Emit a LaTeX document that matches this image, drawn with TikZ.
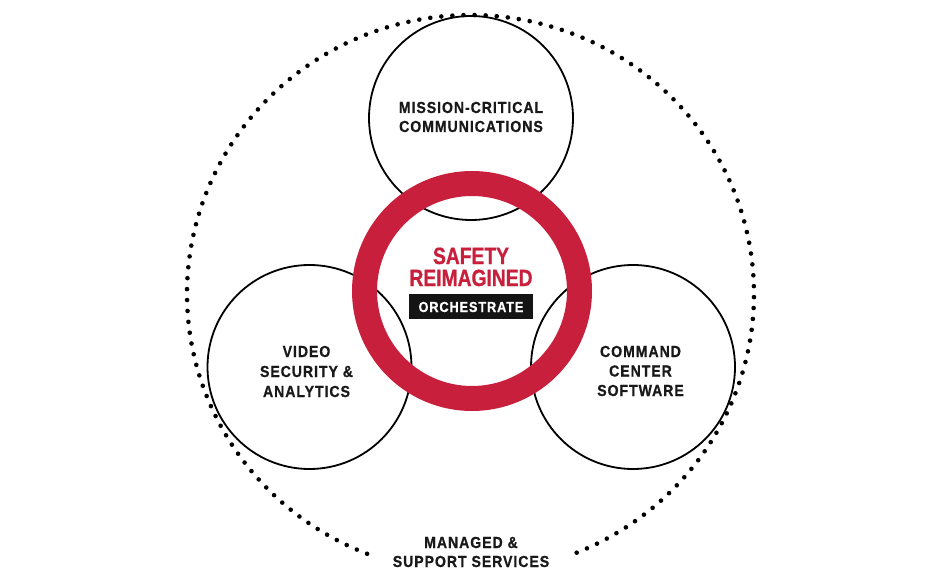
\documentclass[tikz,border=0pt]{standalone}
\usepackage{fontspec}
\newfontfamily\lblfont[FakeStretch=0.88,LetterSpace=6,FakeBold=0.8]{Liberation Sans}
\newfontfamily\ttlfont[FakeStretch=0.82,FakeBold=0.8]{Liberation Sans}
\definecolor{safetyred}{RGB}{200,32,60}
\tikzset{
  lbl/.style={anchor=base, inner sep=0pt, font=\lblfont\bfseries\fontsize{16}{19}\selectfont, text=black!90},
  ttl/.style={anchor=base, inner sep=0pt, font=\ttlfont\bfseries\fontsize{23.5}{22}\selectfont, text=safetyred},
  pillar/.style={draw=black, line width=1.8pt},
  ring/.style={draw=safetyred, line width=25pt},
  dotmark/.style={fill=black}
}
\begin{document}
\begin{tikzpicture}[x=1pt,y=-1pt]
\useasboundingbox (0,0) rectangle (945,588);
% outer dotted ring
\foreach \i in {0,...,141}{
  \pgfmathsetmacro{\a}{-68+\i*2.24539}
  \fill[dotmark] ({470.5+283.5*cos(\a)},{294-279*sin(\a)}) circle (2.3pt);
}
% three pillar circles
\coordinate (ctop) at (471,118);
\coordinate (cleft) at (309.5,367);
\coordinate (cright) at (633,367);
\draw[pillar] (ctop) circle (102pt);
\draw[pillar] (cleft) circle (102pt);
\draw[pillar] (cright) circle (102pt);
% central red ring
\coordinate (ccen) at (472,291);
\draw[ring] (ccen) circle (107.5pt);
% labels
\node[lbl] (m1) at (471,113) {MISSION-CRITICAL};
\node[lbl] (m2) at (471,132) {COMMUNICATIONS};
\node[ttl] (s1) at (471,264) {SAFETY};
\node[ttl] (s2) at (471,286) {REIMAGINED};
\node[fill=black!92, minimum width=124pt, minimum height=25pt, inner sep=0pt] (obox) at (471,306.5) {};
\node[lbl, font=\lblfont\bfseries\fontsize{14.5}{18}\selectfont, text=white] (o1) at (471,312) {ORCHESTRATE};
\node[lbl] (v1) at (306.5,357) {VIDEO};
\node[lbl] (v2) at (306.5,377) {SECURITY \&};
\node[lbl] (v3) at (306.5,397) {ANALYTICS};
\node[lbl] (c1) at (640.5,357) {COMMAND};
\node[lbl] (c2) at (640.5,376.5) {CENTER};
\node[lbl] (c3) at (640.5,396) {SOFTWARE};
\node[lbl] (g1) at (471,548) {MANAGED \&};
\node[lbl] (g2) at (471,567) {SUPPORT SERVICES};
\end{tikzpicture}
\end{document}
